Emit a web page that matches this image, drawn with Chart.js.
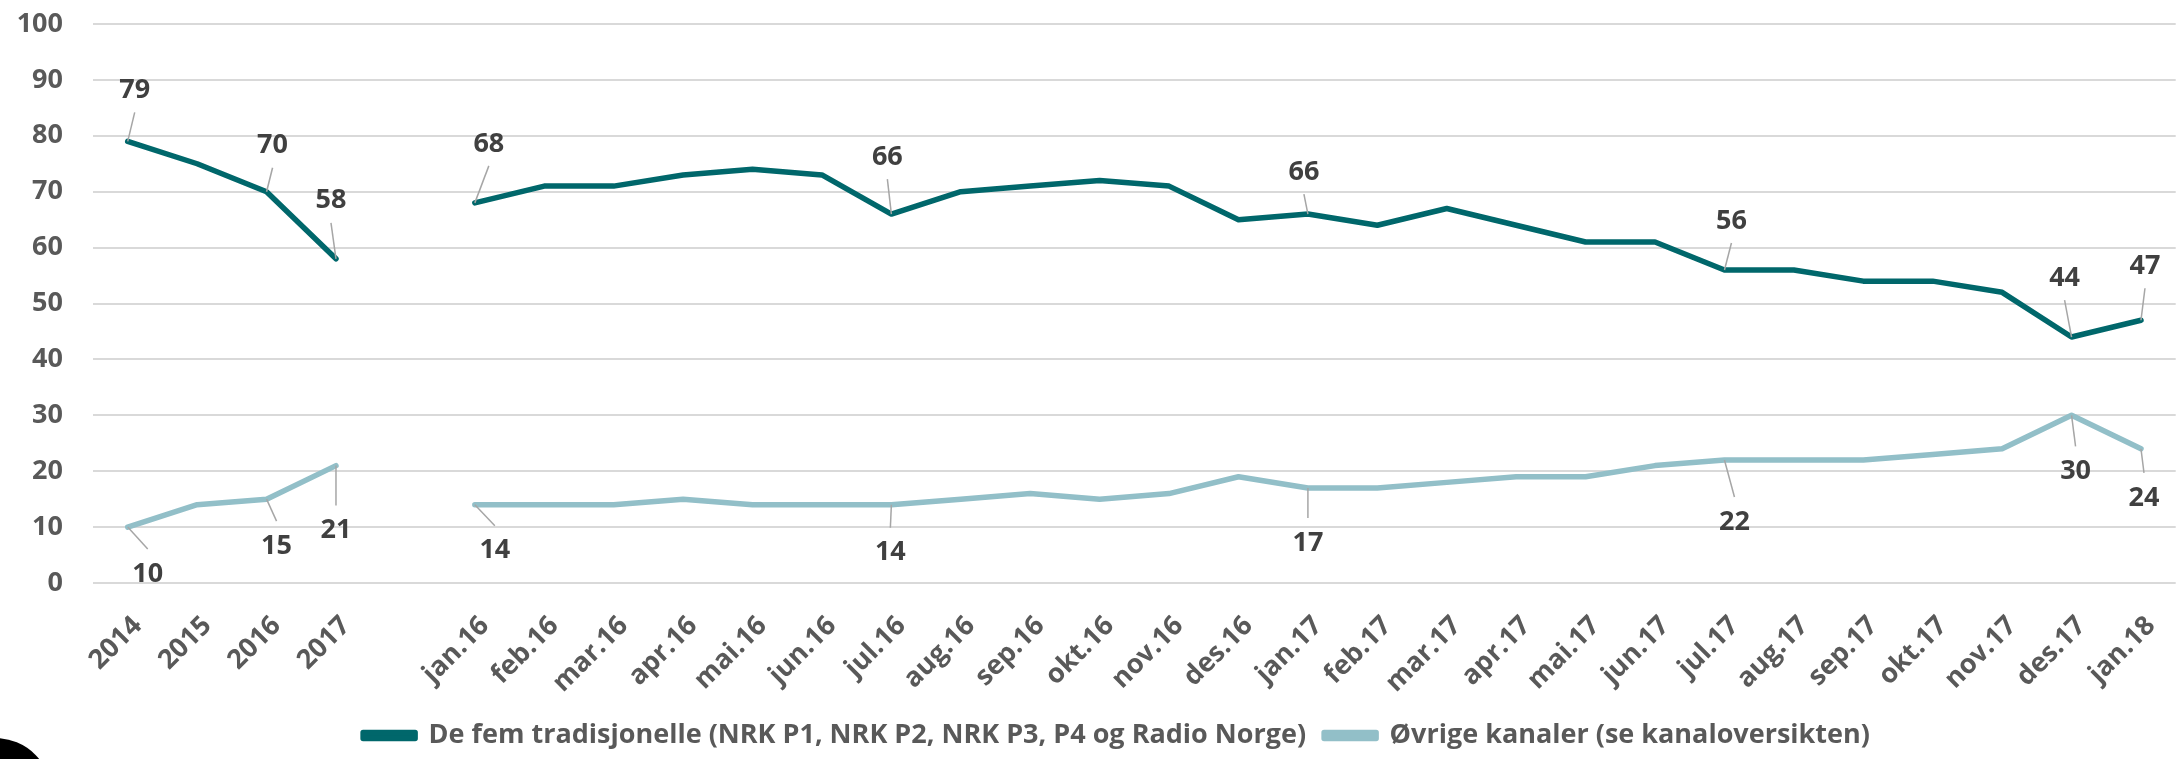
<!DOCTYPE html>
<html lang="no">
<head>
    <meta charset="UTF-8">
    <title>Radiolytting</title>
    <script src="https://cdn.jsdelivr.net/npm/chart.js"></script>
    <style>
        html, body { margin: 0; padding: 0; background: #fff; }
        #wrap { width: 2183px; height: 759px; position: relative; }
    </style>
</head>
<body>
<div id="wrap"><canvas id="radioChart"></canvas></div>
<script>
// categories (empty slot separates the yearly and the monthly part)
var periods = ['2014', '2015', '2016', '2017', '',
    'jan.16', 'feb.16', 'mar.16', 'apr.16', 'mai.16', 'jun.16', 'jul.16', 'aug.16', 'sep.16', 'okt.16', 'nov.16', 'des.16',
    'jan.17', 'feb.17', 'mar.17', 'apr.17', 'mai.17', 'jun.17', 'jul.17', 'aug.17', 'sep.17', 'okt.17', 'nov.17', 'des.17',
    'jan.18'];

var tradisjonelle = [79, 75, 70, 58, null,
    68, 71, 71, 73, 74, 73, 66, 70, 71, 72, 71, 65,
    66, 64, 67, 64, 61, 61, 56, 56, 54, 54, 52, 44,
    47];

var ovrige = [10, 14, 15, 21, null,
    14, 14, 14, 15, 14, 14, 14, 15, 16, 15, 16, 19,
    17, 17, 18, 19, 19, 21, 22, 22, 22, 23, 24, 30,
    24];

var seriesNames = ['De fem tradisjonelle (NRK P1, NRK P2, NRK P3, P4 og Radio Norge)', 'Øvrige kanaler (se kanaloversikten)'];

// which points carry a value label
var labelled = [0, 2, 3, 5, 11, 17, 23, 28, 29];

var yMin = 0, yMax = 100, yStep = 10;

var FONT = "'Open Sans', 'Noto Sans', sans-serif";

// label placement relative to the point (px), per series, same order as "labelled"
var labelOffsets = [
    [[7, -51], [6, -46], [-5, -58], [14, -59], [-4, -57], [-4, -42], [7, -49], [-7, -59], [4, -54]],
    [[20, 47], [10, 47], [0, 65], [20, 46], [-1, 48], [0, 55], [10, 62], [4, 56], [3, 49]]
];

var leaderLabels = {
    id: 'leaderLabels',
    afterLayout: function(chart) {
        // legend sits a bit right of the canvas centre in the original
        chart.legend.left += 28;
        chart.legend.right += 28;
    },
    afterDatasetsDraw: function(chart) {
        var ctx = chart.ctx;
        ctx.save();
        chart.data.datasets.forEach(function(ds, di) {
            var meta = chart.getDatasetMeta(di);
            var gap = di === 0 ? 22 : 25;
            labelled.forEach(function(idx, k) {
                var pt = meta.data[idx];
                var off = labelOffsets[di][k];
                var lx = pt.x + off[0], ly = pt.y + off[1];
                var sign = off[1] < 0 ? 1 : -1;
                var sy = ly + sign * gap;
                if (Math.abs(sy - pt.y) > 4) {
                    ctx.beginPath();
                    ctx.moveTo(lx, sy);
                    ctx.lineTo(pt.x, pt.y);
                    ctx.strokeStyle = '#a6a6a6';
                    ctx.lineWidth = 1.5;
                    ctx.stroke();
                }
                ctx.font = 'bold 27px ' + FONT;
                ctx.fillStyle = '#404040';
                ctx.textAlign = 'center';
                ctx.textBaseline = 'middle';
                ctx.fillText(String(ds.data[idx]), lx, ly);
            });
        });
        ctx.restore();
    },
    afterDraw: function(chart) {
        // black corner shape in the original picture
        var ctx = chart.ctx;
        ctx.save();
        ctx.beginPath();
        ctx.arc(-5, 795, 57, 0, Math.PI * 2);
        ctx.fillStyle = '#000';
        ctx.fill();
        ctx.restore();
    }
};

var ctx = document.getElementById('radioChart').getContext('2d');
var radioChart = new Chart(ctx, {
    type: 'line',
    data: {
        labels: periods,
        datasets: [{
            label: seriesNames[0],
            data: tradisjonelle,
            borderColor: '#00676b',
            backgroundColor: '#00676b',
            borderWidth: 5.5,
            pointRadius: 0,
            tension: 0,
            borderJoinStyle: 'round',
            borderCapStyle: 'round',
            spanGaps: false
        }, {
            label: seriesNames[1],
            data: ovrige,
            borderColor: '#92bfc8',
            backgroundColor: '#92bfc8',
            borderWidth: 5.5,
            pointRadius: 0,
            tension: 0,
            borderJoinStyle: 'round',
            borderCapStyle: 'round',
            spanGaps: false
        }]
    },
    options: {
        responsive: true,
        maintainAspectRatio: false,
        animation: false,
        devicePixelRatio: 1,
        layout: { padding: { top: 24, right: 6, left: 0, bottom: 0 } },
        plugins: {
            legend: {
                position: 'bottom',
                labels: {
                    boxWidth: 52,
                    boxHeight: 6,
                    padding: 18,
                    color: '#595959',
                    font: { family: FONT, size: 27, weight: 'bold' }
                }
            },
            tooltip: { enabled: false }
        },
        scales: {
            x: {
                offset: true,
                grid: { display: false },
                border: { display: false },
                ticks: {
                    autoSkip: false,
                    maxRotation: 45,
                    minRotation: 45,
                    padding: 19,
                    labelOffset: 10,
                    color: '#595959',
                    font: { family: FONT, size: 27, weight: 'bold' }
                },
                afterFit: function(scale) { scale.height = 121; }
            },
            y: {
                min: yMin,
                max: yMax,
                ticks: {
                    stepSize: yStep,
                    padding: 30,
                    color: '#595959',
                    font: { family: FONT, size: 27, weight: 'bold' }
                },
                grid: { color: '#d9d9d9', lineWidth: 2, drawTicks: false },
                border: { display: false },
                afterFit: function(scale) {
                    scale.width = 93;
                    scale.paddingTop = 0;
                    scale.paddingBottom = 0;
                }
            }
        }
    },
    plugins: [leaderLabels]
});
</script>
</body>
</html>
